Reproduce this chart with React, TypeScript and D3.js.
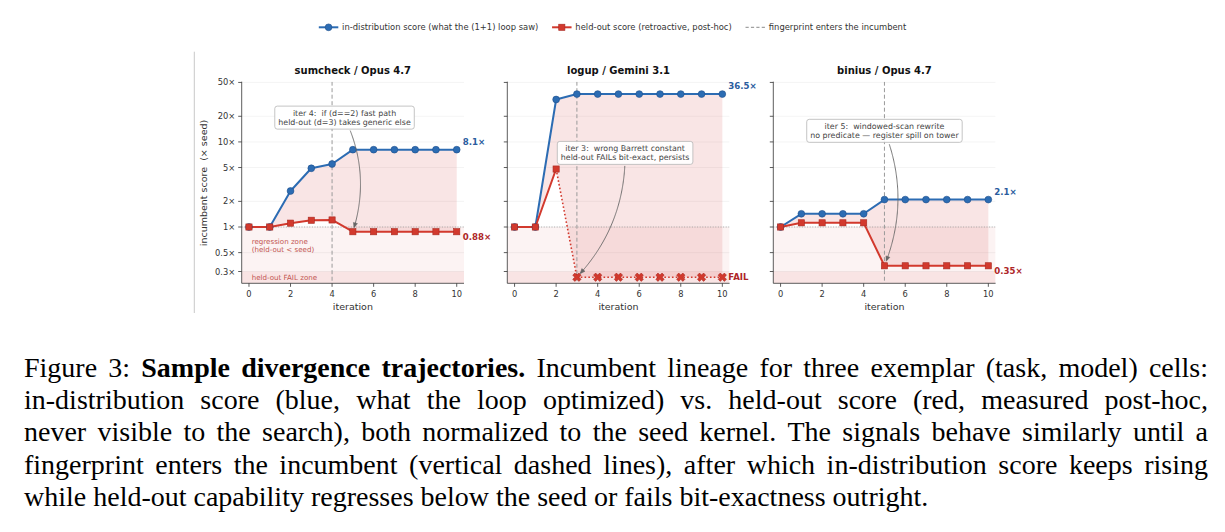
import React, { useEffect } from "react";
import * as d3 from "d3";

// ---------------- data ----------------
const iterations = [0, 1, 2, 3, 4, 5, 6, 7, 8, 9, 10];
const panelTitles = ["sumcheck / Opus 4.7", "logup / Gemini 3.1", "binius / Opus 4.7"];

const inDistSumcheck = [1, 1, 2.65, 4.9, 5.5, 8.1, 8.1, 8.1, 8.1, 8.1, 8.1];
const heldOutSumcheck: (number | null)[] = [1, 1, 1.11, 1.2, 1.21, 0.88, 0.88, 0.88, 0.88, 0.88, 0.88];
const inDistLogup = [1, 1, 31.5, 36.5, 36.5, 36.5, 36.5, 36.5, 36.5, 36.5, 36.5];
const heldOutLogup: (number | null)[] = [1, 1, 4.8, null, null, null, null, null, null, null, null];
const inDistBinius = [1, 1.43, 1.43, 1.43, 1.43, 2.1, 2.1, 2.1, 2.1, 2.1, 2.1];
const heldOutBinius: (number | null)[] = [1, 1.12, 1.12, 1.12, 1.12, 0.35, 0.35, 0.35, 0.35, 0.35, 0.35];

const inDistSeries = [inDistSumcheck, inDistLogup, inDistBinius];
const heldOutSeries = [heldOutSumcheck, heldOutLogup, heldOutBinius];
const FAIL_PLOT = 0.257;
const SEED = 1;
const REGRESSION_TOP = 1;
const FAIL_ZONE_TOP = 0.3;

const fingerprintIters = [4, 3, 5];
const endLabelsInDist = ["8.1×", "36.5×", "2.1×"];
const endLabelsHeldOut = ["0.88×", "FAIL", "0.35×"];

const annotationLines = [
  ["iter 4:  if (d==2) fast path", "held-out (d=3) takes generic else"],
  ["iter 3:  wrong Barrett constant", "held-out FAILs bit-exact, persists"],
  ["iter 5:  windowed-scan rewrite", "no predicate — register spill on tower"],
];
const annotationAnchors = [
  [4.6, 19.3],
  [5.32, 7.43],
  [5.0, 13.5],
];
const annotationTargets = [5, 3, 5];

const yTickValues = [0.3, 0.5, 1, 2, 5, 10, 20, 50];
const yTickLabels = ["0.3×", "0.5×", "1×", "2×", "5×", "10×", "20×", "50×"];
const xTickValues = [0, 2, 4, 6, 8, 10];

const legendLabels = [
  "in-distribution score (what the (1+1) loop saw)",
  "held-out score (retroactive, post-hoc)",
  "fingerprint enters the incumbent",
];

const captionLines: { t: string; b?: boolean }[][] = [
  [
    { t: "Figure 3:" },
    { t: "Sample divergence trajectories.", b: true },
    { t: "Incumbent lineage for three exemplar (task, model) cells:" },
  ],
  [{ t: "in-distribution score (blue, what the loop optimized) vs. held-out score (red, measured post-hoc," }],
  [{ t: "never visible to the search), both normalized to the seed kernel. The signals behave similarly until a" }],
  [{ t: "fingerprint enters the incumbent (vertical dashed lines), after which in-distribution score keeps rising" }],
  [{ t: "while held-out capability regresses below the seed or fails bit-exactness outright." }],
];

// ---------------- style / layout ----------------
const W = 1225;
const H = 532;
const AX_LEFTS = [241.7, 507.3, 773.3];
const AX_W = 222.3;
const AX_TOP = 81.7;
const AX_BOTTOM = 283.3;
const SANS = '"DejaVu Sans", sans-serif';
const SERIF = '"Liberation Serif", "Times New Roman", serif';
const BLUE = "#2c6cb3";
const BLUE_EDGE = "#1f4f8c";
const BLUE_LABEL = "#2a5c9e";
const RED = "#d2392d";
const RED_EDGE = "#a82a22";
const RED_LABEL = "#ae2628";
const PINK = "#d9534f";
const TXT = "#333333";

let _ctx: CanvasRenderingContext2D | null = null;
function measure(text: string, font: string): number {
  if (!_ctx) _ctx = document.createElement("canvas").getContext("2d");
  if (!_ctx) return text.length * 6;
  _ctx.font = font;
  return _ctx.measureText(text).width;
}

function xMarkerPath(cx: number, cy: number, h: number, t: number) {
  // thick "X" marker: half-size h, half-thickness t
  const a = t / Math.SQRT2;
  const raw: [number, number][] = [
    [0, -2 * a],
    [h - a, -h - a],
    [h + a, -h + a],
    [2 * a, 0],
    [h + a, h - a],
    [h - a, h + a],
    [0, 2 * a],
    [-h + a, h + a],
    [-h - a, h - a],
    [-2 * a, 0],
    [-h - a, -h + a],
    [-h + a, -h - a],
  ];
  return "M" + raw.map(([px, py]) => `${cx + px},${cy + py}`).join("L") + "Z";
}

function Annotation({ lines, cx, cy, tx, ty }: { lines: string[]; cx: number; cy: number; tx: number; ty: number }) {
  const font = `7.9px ${SANS}`;
  const tw = Math.max(...lines.map((l) => measure(l, font)));
  const bw = tw + 7;
  const bh = 23;
  const box = { x0: cx - bw / 2, y0: cy - bh / 2, x1: cx + bw / 2, y1: cy + bh / 2 };
  const qx = (cx + tx) / 2 + 0.2 * (ty - cy);
  const qy = (cy + ty) / 2 - 0.2 * (tx - cx);
  const pts: [number, number][] = [];
  for (let k = 0; k <= 120; k++) {
    const t = k / 120;
    const px = (1 - t) * (1 - t) * cx + 2 * (1 - t) * t * qx + t * t * tx;
    const py = (1 - t) * (1 - t) * cy + 2 * (1 - t) * t * qy + t * t * ty;
    const inside = px > box.x0 - 1 && px < box.x1 + 1 && py > box.y0 - 1 && py < box.y1 + 1;
    if (inside) continue;
    if (Math.hypot(px - tx, py - ty) < 4) continue;
    pts.push([px, py]);
  }
  const tip = pts[pts.length - 1];
  const prev = pts[Math.max(0, pts.length - 4)];
  const dx = tip[0] - prev[0];
  const dy = tip[1] - prev[1];
  const len = Math.hypot(dx, dy) || 1;
  const ux = dx / len;
  const uy = dy / len;
  const hl = 5;
  const hw = 2.1;
  const bx = tip[0] - ux * hl;
  const by = tip[1] - uy * hl;
  const head = `M${tip[0]},${tip[1]}L${bx - uy * hw},${by + ux * hw}L${bx + uy * hw},${by - ux * hw}Z`;
  const linePts = pts.slice(0, -1).concat([[bx + ux * 0.5, by + uy * 0.5]]);
  return (
    <g>
      <path d={d3.line()(linePts) || ""} fill="none" stroke="#666" strokeWidth={0.9} />
      <path d={head} fill="#666" stroke="#666" strokeWidth={0.5} />
      <rect x={box.x0} y={box.y0} width={bw} height={bh} rx={2.5} ry={2.5} fill="#ffffff" fillOpacity={0.92} stroke="#b5b5b5" strokeWidth={0.8} />
      {lines.map((l, k) => (
        <text key={k} x={cx} y={cy + (k === 0 ? -4.65 : 4.65) + 2.8} textAnchor="middle" fontFamily={SANS} fontSize={7.9} fill="#444" xmlSpace="preserve" style={{ whiteSpace: "pre" }}>
          {l}
        </text>
      ))}
    </g>
  );
}

function Panel({ i }: { i: number }) {
  const left = AX_LEFTS[i];
  const right = left + AX_W;
  const x = d3.scaleLinear().domain([-0.35, 10.35]).range([left, right]);
  const y = d3.scaleLog().domain([0.218, 51]).range([AX_BOTTOM, AX_TOP]);
  const inDist = inDistSeries[i];
  const held = heldOutSeries[i];
  const heldPlot = held.map((v) => (v == null ? FAIL_PLOT : v));

  const area = d3
    .area<number>()
    .x((_, k) => x(iterations[k]))
    .y0((_, k) => y(heldPlot[k]))
    .y1((d) => y(d));
  const blueLine = d3
    .line<number>()
    .x((_, k) => x(iterations[k]))
    .y((d) => y(d));
  const redSolid = d3
    .line<number | null>()
    .defined((d) => d != null)
    .x((_, k) => x(iterations[k]))
    .y((d) => y(d as number));
  const firstFail = held.findIndex((v) => v == null);
  let dotted: string | null = null;
  if (firstFail > 0) {
    const idx = iterations.slice(firstFail - 1);
    dotted = d3
      .line<number>()
      .x((k) => x(k))
      .y((k) => y(heldPlot[k]))(idx);
  }
  const clipId = `clip-${i}`;
  const fp = fingerprintIters[i];
  const tgt = annotationTargets[i];
  const [ax, ay] = annotationAnchors[i];
  const lastBlue = inDist[inDist.length - 1];
  const lastRed = heldPlot[heldPlot.length - 1];
  const redIsFail = held[held.length - 1] == null;

  return (
    <g>
      <defs>
        <clipPath id={clipId}>
          <rect x={left} y={AX_TOP} width={AX_W} height={AX_BOTTOM - AX_TOP} />
        </clipPath>
      </defs>
      <g clipPath={`url(#${clipId})`}>
        {yTickValues.map((v) => (
          <line key={v} x1={left} x2={right} y1={y(v)} y2={y(v)} stroke="#efefef" strokeWidth={0.7} />
        ))}
        <rect x={left} y={y(REGRESSION_TOP)} width={AX_W} height={AX_BOTTOM - y(REGRESSION_TOP)} fill={PINK} fillOpacity={0.07} />
        <rect x={left} y={y(FAIL_ZONE_TOP)} width={AX_W} height={AX_BOTTOM - y(FAIL_ZONE_TOP)} fill={PINK} fillOpacity={0.09} />
        <path d={area(inDist) || ""} fill={PINK} fillOpacity={0.15} stroke="none" />
        <line x1={left} x2={right} y1={y(SEED)} y2={y(SEED)} stroke="#999" strokeWidth={0.8} strokeDasharray="1,1.6" />
        <line x1={x(fp)} x2={x(fp)} y1={AX_TOP} y2={AX_BOTTOM} stroke="#9a9a9a" strokeWidth={1} strokeDasharray="4,2.5" />
      </g>
      {i === 0 && (
        <g fontFamily={SANS} fontSize={7.1} fill="#c25550">
          <text x={left + 10} y={243.5}>regression zone</text>
          <text x={left + 10} y={252.2}>(held-out &lt; seed)</text>
          <text x={left + 10} y={280}>held-out FAIL zone</text>
        </g>
      )}
      <path d={blueLine(inDist) || ""} fill="none" stroke={BLUE} strokeWidth={2} strokeLinejoin="round" />
      {dotted && <path d={dotted} fill="none" stroke={RED} strokeWidth={1.6} strokeDasharray="1.6,2.2" />}
      <path d={redSolid(held) || ""} fill="none" stroke={RED} strokeWidth={2} strokeLinejoin="round" />
      {inDist.map((v, k) => (
        <circle key={k} cx={x(iterations[k])} cy={y(v)} r={3.4} fill={BLUE} stroke={BLUE_EDGE} strokeWidth={0.6} />
      ))}
      {held.map((v, k) =>
        v == null ? (
          <path key={k} d={xMarkerPath(x(iterations[k]), y(FAIL_PLOT), 3.1, 1.5)} fill={RED} stroke={RED_EDGE} strokeWidth={0.6} />
        ) : (
          <rect key={k} x={x(iterations[k]) - 3.1} y={y(v) - 3.1} width={6.2} height={6.2} fill={RED} stroke={RED_EDGE} strokeWidth={0.6} />
        )
      )}
      <Annotation lines={annotationLines[i]} cx={x(ax)} cy={y(ay)} tx={x(tgt)} ty={y(heldPlot[tgt])} />
      <text x={x(10) + 6} y={y(lastBlue) - 8 + 3.1} fontFamily={SANS} fontSize={8.6} fontWeight="bold" fill={BLUE_LABEL}>
        {endLabelsInDist[i]}
      </text>
      <text x={x(10) + 6} y={y(lastRed) + (redIsFail ? 0 : 5) + 3.1} fontFamily={SANS} fontSize={8.6} fontWeight="bold" fill={RED_LABEL}>
        {endLabelsHeldOut[i]}
      </text>
      {/* spines */}
      <line x1={left} x2={left} y1={AX_TOP} y2={AX_BOTTOM} stroke="#333" strokeWidth={0.8} />
      <line x1={left} x2={right} y1={AX_BOTTOM} y2={AX_BOTTOM} stroke="#333" strokeWidth={0.8} />
      {yTickValues.map((v, k) => (
        <g key={v}>
          <line x1={left - 3.5} x2={left} y1={y(v)} y2={y(v)} stroke="#333" strokeWidth={0.8} />
          {i === 0 && (
            <text x={left - 6.5} y={y(v) + 3} textAnchor="end" fontFamily={SANS} fontSize={8.3} fill={TXT}>
              {yTickLabels[k]}
            </text>
          )}
        </g>
      ))}
      {xTickValues.map((v) => (
        <g key={v}>
          <line x1={x(v)} x2={x(v)} y1={AX_BOTTOM} y2={AX_BOTTOM + 3.5} stroke="#333" strokeWidth={0.8} />
          <text x={x(v)} y={297} textAnchor="middle" fontFamily={SANS} fontSize={8.3} fill={TXT}>
            {v}
          </text>
        </g>
      ))}
      <text x={(left + right) / 2} y={310} textAnchor="middle" fontFamily={SANS} fontSize={9.5} fill={TXT}>
        iteration
      </text>
      <text x={(left + right) / 2} y={73.5} textAnchor="middle" fontFamily={SANS} fontSize={10} fontWeight="bold" fill="#111">
        {panelTitles[i]}
      </text>
    </g>
  );
}

function Legend() {
  const font = `8.4px ${SANS}`;
  const handle = 19.5;
  const pad = 3.8;
  const gap = 13.8;
  const widths = legendLabels.map((l) => measure(l, font));
  const total = widths.reduce((a, b) => a + b, 0) + 3 * (handle + pad) + 2 * gap;
  let cur = W / 2 - total / 2;
  const yc = 27.3;
  const items: React.ReactNode[] = [];
  legendLabels.forEach((lab, k) => {
    const x0 = cur;
    const mid = x0 + handle / 2;
    items.push(
      <g key={k}>
        {k === 0 && (
          <>
            <line x1={x0} x2={x0 + handle} y1={yc} y2={yc} stroke={BLUE} strokeWidth={2} />
            <circle cx={mid} cy={yc} r={3.4} fill={BLUE} stroke={BLUE_EDGE} strokeWidth={0.6} />
          </>
        )}
        {k === 1 && (
          <>
            <line x1={x0} x2={x0 + handle} y1={yc} y2={yc} stroke={RED} strokeWidth={2} />
            <rect x={mid - 3.1} y={yc - 3.1} width={6.2} height={6.2} fill={RED} stroke={RED_EDGE} strokeWidth={0.6} />
          </>
        )}
        {k === 2 && <line x1={x0} x2={x0 + handle} y1={yc} y2={yc} stroke="#8a8a8a" strokeWidth={1} strokeDasharray="3.2,2.2" />}
        <text x={x0 + handle + pad} y={yc + 2.9} fontFamily={SANS} fontSize={8.4} fill={TXT}>
          {lab}
        </text>
      </g>
    );
    cur = x0 + handle + pad + widths[k] + gap;
  });
  return <g>{items}</g>;
}

function Caption() {
  const left = 24;
  const right = 1208;
  const size = 28;
  const base0 = 376.8;
  const lh = 32.25;
  const fontOf = (b?: boolean) => `${b ? "bold " : ""}${size}px ${SERIF}`;
  const out: React.ReactNode[] = [];
  captionLines.forEach((segs, li) => {
    const words: { w: string; b?: boolean; width: number }[] = [];
    segs.forEach((s) =>
      s.t
        .split(" ")
        .filter((w) => w.length)
        .forEach((w) => words.push({ w, b: s.b, width: measure(w, fontOf(s.b)) }))
    );
    const sum = words.reduce((a, b) => a + b.width, 0);
    const last = li === captionLines.length - 1;
    const space = last ? measure(" ", fontOf(false)) : (right - left - sum) / (words.length - 1);
    let cx = left;
    words.forEach((wd, k) => {
      out.push(
        <text key={`${li}-${k}`} x={cx} y={base0 + li * lh} fontFamily={SERIF} fontSize={size} fontWeight={wd.b ? "bold" : "normal"} fill="#000">
          {wd.w}
        </text>
      );
      cx += wd.width + space;
    });
  });
  return <g>{out}</g>;
}

export default function App() {
  useEffect(() => {
    document.body.style.margin = "0";
    document.body.style.background = "#ffffff";
  }, []);
  return (
    <svg width={W} height={H} viewBox={`0 0 ${W} ${H}`} style={{ position: "absolute", left: 0, top: 0, background: "#fff" }}>
      <rect x={0} y={0} width={W} height={H} fill="#ffffff" />
      <line x1={194.3} x2={194.3} y1={51.7} y2={313} stroke="#c8c8c8" strokeWidth={1} />
      <Legend />
      {[0, 1, 2].map((i) => (
        <Panel key={i} i={i} />
      ))}
      <text transform={`translate(206.7,183) rotate(-90)`} textAnchor="middle" fontFamily={SANS} fontSize={9.5} fill={TXT} xmlSpace="preserve" style={{ whiteSpace: "pre" }}>
        incumbent score  (× seed)
      </text>
      <Caption />
    </svg>
  );
}
